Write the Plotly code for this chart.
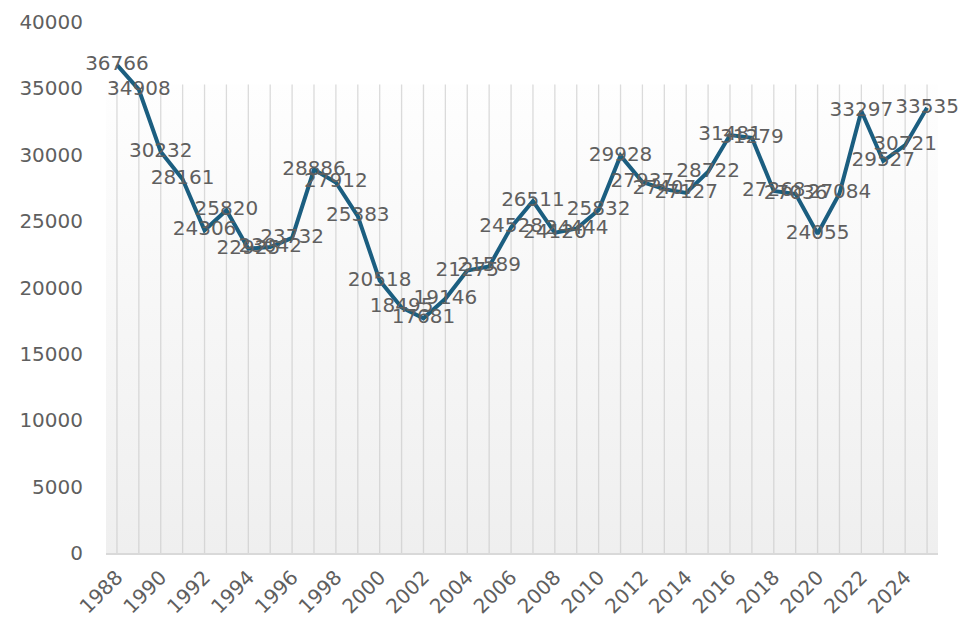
import plotly.graph_objects as go

years = list(range(1988, 2026))
values = [36766, 34908, 30232, 28161, 24306, 25820, 22925, 23042, 23732, 28886,
          27912, 25383, 20518, 18495, 17681, 19146, 21275, 21589, 24528, 26511,
          24120, 24444, 25832, 29928, 27937, 27407, 27127, 28722, 31481, 31279,
          27268, 27036, 24055, 27084, 33297, 29527, 30721, 33535]
tick_years = [y for y in years if (y - years[0]) % 2 == 0]

BAND_TOP = 35300
x_lo, x_hi = years[0] - 0.5, years[-1] + 0.5
FONT = "DejaVu Sans, Liberation Sans, Arial"

fig = go.Figure()

# gradient background band
fig.add_trace(go.Scatter(
    x=[x_lo, x_hi, x_hi, x_lo, x_lo],
    y=[0, 0, BAND_TOP, BAND_TOP, 0],
    mode="lines", line=dict(width=0), fill="toself",
    fillgradient=dict(type="vertical",
                      colorscale=[[0, "rgb(239,239,239)"], [1, "rgb(254,254,254)"]]),
    hoverinfo="skip", showlegend=False))

# vertical guide lines at each year
gx, gy = [], []
for y in years:
    gx += [y, y, None]
    gy += [0, BAND_TOP, None]
fig.add_trace(go.Scatter(x=gx, y=gy, mode="lines",
                         line=dict(color="rgba(200,200,200,0.65)", width=1.3),
                         hoverinfo="skip", showlegend=False))

fig.add_trace(go.Scatter(
    x=years, y=values, mode="lines+text",
    line=dict(color="#1b5e80", width=4),
    text=[str(v) for v in values], textposition="middle center",
    textfont=dict(family=FONT, size=20, color="#5f5f5f"),
    cliponaxis=False, showlegend=False))

fig.update_layout(
    width=963, height=618,
    margin=dict(l=106, r=25, t=22, b=65),
    paper_bgcolor="white", plot_bgcolor="white",
    font=dict(family=FONT, size=20, color="#5f5f5f"),
    xaxis=dict(range=[x_lo, x_hi], tickmode="array", tickvals=tick_years,
               ticktext=[str(y) for y in tick_years], tickangle=-45,
               showgrid=False, zeroline=False, showline=True, automargin=False,
               linecolor="#d9d9d9", linewidth=1.5, ticks="",
               ticklabelstandoff=3),
    yaxis=dict(range=[0, 40000], dtick=5000, tickformat="d", showgrid=False,
               zeroline=False, showline=False, ticks="", automargin=False,
               ticklabelstandoff=22),
)

fig.write_html("out.html", config={"displayModeBar": False},
               post_script="document.body.style.margin='0';")
